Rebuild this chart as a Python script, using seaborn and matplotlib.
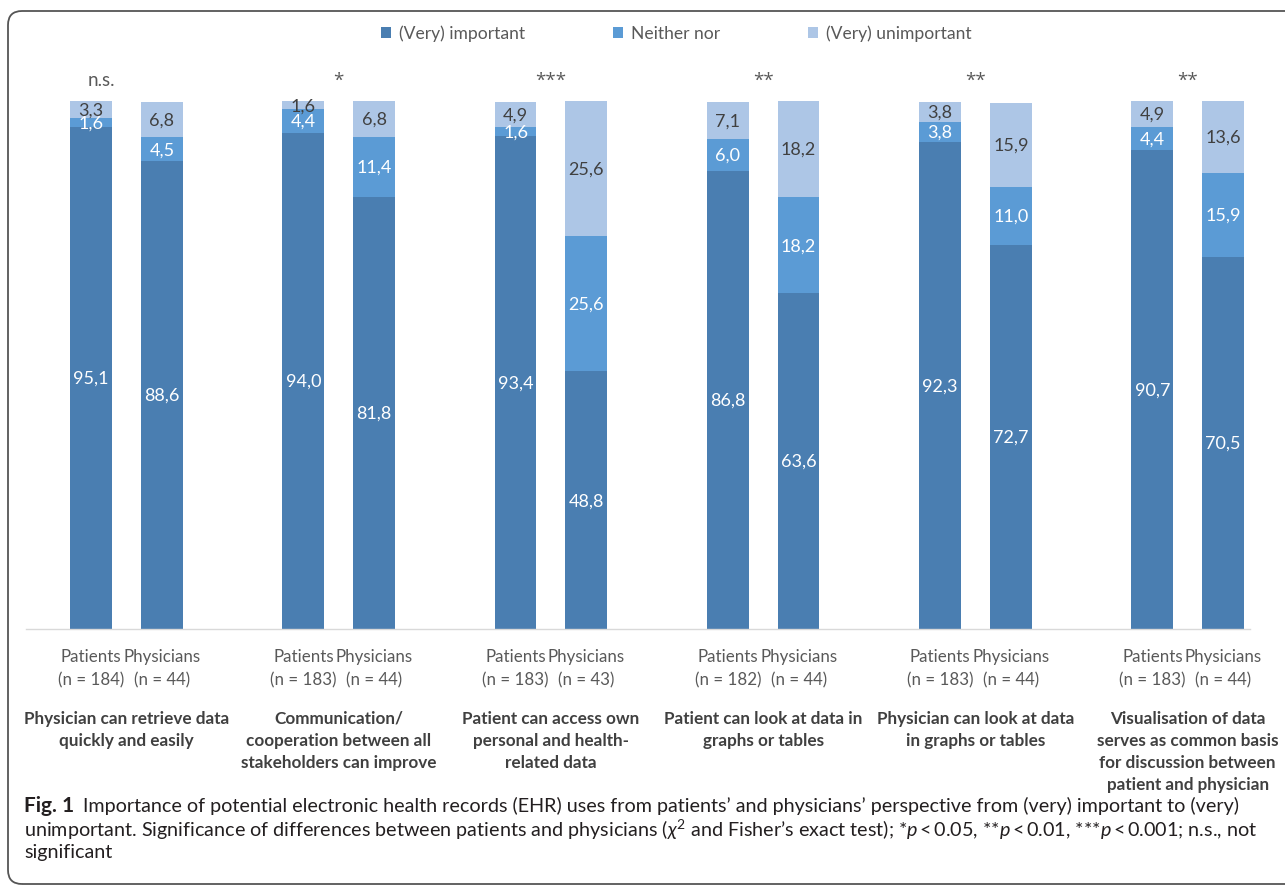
import numpy as np
import pandas as pd
import matplotlib
matplotlib.use("Agg")
import matplotlib.pyplot as plt
import matplotlib.transforms as mtransforms
from matplotlib.patches import FancyBboxPatch, Patch
import seaborn as sns

# ---- data -------------------------------------------------------------
categories = [
    "Physician can retrieve data\nquickly and easily",
    "Communication/\ncooperation between all\nstakeholders can improve",
    "Patient can access own\npersonal and health-\nrelated data",
    "Patient can look at data in\ngraphs or tables",
    "Physician can look at data\nin graphs or tables",
    "Visualisation of data\nserves as common basis\nfor discussion between\npatient and physician",
]
respondents = ["Patients", "Physicians"]
n_patients = [184, 183, 183, 182, 183, 183]
n_physicians = [44, 44, 43, 44, 44, 44]

important_patients = [95.1, 94.0, 93.4, 86.8, 92.3, 90.7]
important_physicians = [88.6, 81.8, 48.8, 63.6, 72.7, 70.5]
neither_patients = [1.6, 4.4, 1.6, 6.0, 3.8, 4.4]
neither_physicians = [4.5, 11.4, 25.6, 18.2, 11.0, 15.9]
unimportant_patients = [3.3, 1.6, 4.9, 7.1, 3.8, 4.9]
unimportant_physicians = [6.8, 6.8, 25.6, 18.2, 15.9, 13.6]

significance = ["n.s.", "*", "***", "**", "**", "**"]
levels = ["(Very) important", "Neither nor", "(Very) unimportant"]

# ---- styling ----------------------------------------------------------
sns.set_theme(style="white")
plt.rcParams["font.family"] = ["Lato", "DejaVu Sans"]
plt.rcParams["mathtext.fontset"] = "custom"
plt.rcParams["mathtext.rm"] = "Lato"
plt.rcParams["mathtext.it"] = "Lato:italic"
plt.rcParams["mathtext.bf"] = "Lato:bold"

c_dark = "#4a7eb1"
c_mid = "#5b9bd5"
c_light = "#adc6e6"
level_colors = [c_dark, c_mid, c_light]
text_grey = "#595959"
title_grey = "#404040"

# ---- long table: one row per bar ---------------------------------------
rows = []
for g in range(len(categories)):
    for k, who in enumerate(respondents):
        if k == 0:
            vals = (important_patients[g], neither_patients[g], unimportant_patients[g])
            n = n_patients[g]
        else:
            vals = (important_physicians[g], neither_physicians[g], unimportant_physicians[g])
            n = n_physicians[g]
        rows.append(dict(group=g, who=who, pos=3 * g + k,
                         v1=vals[0], v2=vals[1], v3=vals[2],
                         label=f"{who}\n(n = {n})"))
df = pd.DataFrame(rows)
df["c1"] = df["v1"]
df["c2"] = df["v1"] + df["v2"]
df["c3"] = df["v1"] + df["v2"] + df["v3"]

W, H = 1285, 887
fig = plt.figure(figsize=(W / 100, H / 100), dpi=100)
ax = fig.add_axes([26 / W, 1 - 630 / H, 1224 / W, 528 / H])

# stacked bars drawn as overlapping cumulative layers
for col, color in [("c3", c_light), ("c2", c_mid), ("c1", c_dark)]:
    sns.barplot(data=df, x="pos", y=col, native_scale=True, width=0.59,
                color=color, saturation=1, errorbar=None, linewidth=0, ax=ax)

ax.set_xlim(-0.92, 16.38)
ax.set_ylim(0, 100)
ax.set_xlabel("")
ax.set_ylabel("")
ax.set_yticks([])
for s in ["top", "left", "right"]:
    ax.spines[s].set_visible(False)
ax.spines["bottom"].set_color("#d9d9d9")
ax.spines["bottom"].set_linewidth(1.0)
ax.set_xticks(df["pos"])
ax.set_xticklabels(df["label"], fontsize=12.2, color=text_grey, linespacing=1.5)
ax.tick_params(axis="x", length=0, pad=14)

# segment value labels
def fmt(v):
    return f"{v:.1f}".replace(".", ",")

for _, r in df.iterrows():
    bottoms = [0, r.c1, r.c2]
    for val, b, colr in zip([r.v1, r.v2, r.v3], bottoms, ["white", "white", title_grey]):
        ax.text(r.pos, b + val / 2, fmt(val), ha="center", va="center",
                fontsize=13, color=colr)

# significance markers above each pair of bars
sig_shift = {"n.s.": -0.35}
for g, s in enumerate(significance):
    fam = ["Lato"] if s == "n.s." else ["Open Sans", "DejaVu Sans"]
    ax.text(3 * g + 0.5 + sig_shift.get(s, 0), 104.0, s, ha="center", va="center",
            fontsize=13.5, color=text_grey, clip_on=False, family=fam)

# item titles under each pair
blend = mtransforms.blended_transform_factory(ax.transData, fig.transFigure)
for g, cat in enumerate(categories):
    ax.text(3 * g + 0.5, 1 - 711 / H, cat, transform=blend, ha="center", va="top",
            fontsize=12.3, fontweight="bold", color=title_grey, linespacing=1.45)

# legend
handles = [Patch(facecolor=c, edgecolor="none") for c in level_colors]
fig.legend(handles, levels, loc="center", bbox_to_anchor=(676 / W, 1 - 34 / H),
           ncol=3, frameon=False, fontsize=12.6, labelcolor=text_grey,
           handlelength=0.6, handleheight=0.6, handletextpad=0.45,
           columnspacing=5.0)

# caption
cap_kw = dict(fontsize=14.25, color="#231f20", ha="left", va="center")
fig.canvas.draw()
renderer = fig.canvas.get_renderer()
head = fig.text(24 / W, 1 - 806 / H, "Fig. 1", fontweight="bold",
                **{**cap_kw, "fontsize": 15})
hx = head.get_window_extent(renderer).x1
fig.text((hx + 9) / W, 1 - 806 / H,
         "Importance of potential electronic health records (EHR) uses from "
         "patients’ and physicians’ perspective from (very) important to (very)", **cap_kw)
fig.text(24 / W, 1 - 830 / H,
         r"unimportant. Significance of differences between patients and physicians "
         r"($\chi^2$ and Fisher’s exact test); *$p$$\,$<$\,$0.05, **$p$$\,$<$\,$0.01, "
         r"***$p$$\,$<$\,$0.001; n.s., not",
         **cap_kw)
fig.text(24 / W, 1 - 853 / H, "significant", **cap_kw)

# rounded frame around the figure
frame = FancyBboxPatch((8, 2), 1320, 873, boxstyle="round,pad=0,rounding_size=14",
                       transform=mtransforms.IdentityTransform(), facecolor="none",
                       edgecolor="#555555", linewidth=1.3, clip_on=False)
fig.patches.append(frame)

fig.savefig("out.png", dpi=100)
